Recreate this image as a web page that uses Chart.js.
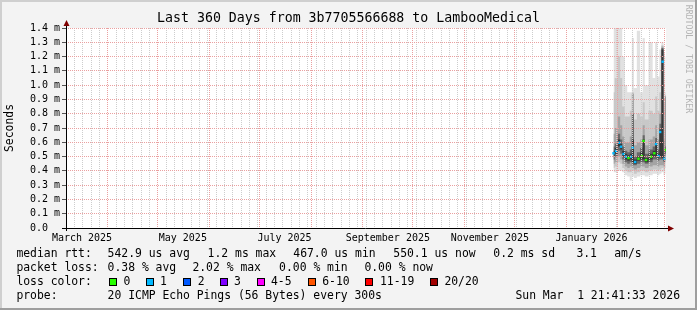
<!DOCTYPE html>
<html><head><meta charset="utf-8">
<script src="https://cdn.jsdelivr.net/npm/chart.js@4/dist/chart.umd.min.js"></script>
<style>html,body{margin:0;padding:0;background:#f3f3f3;}canvas{display:block}</style>
</head><body>
<canvas id="c" width="697" height="310"></canvas>
<script>
// ---- data (x in days since start of the 360-day window, y in ms) ----
const days   = [328.5, 330, 332, 333, 334.5, 336, 337.5, 339, 340, 341.5, 343.5, 345.5, 346.5, 348, 351, 353, 354, 355.5, 356.5, 358, 359, 359.8];
const median = [0.523, 0.539, 0.597, 0.569, 0.518, 0.499, 0.490, 0.499, 0.562, 0.462, 0.485, 0.504, 0.609, 0.476, 0.499, 0.523, 0.588, 0.504, 0.672, 1.164, 0.485, 0.546];
const lossBucket = [1,1,1,1,1,1,0,1,1,1,0,0,0,0,0,0,1,1,1,1,1,0];
const pingMin = [0.39,0.39,0.40,0.40,0.39,0.37,0.36,0.33,0.36,0.35,0.36,0.37,0.37,0.36,0.37,0.38,0.38,0.37,0.38,0.39,0.37,0.38];
const pingMax = [1.45,1.45,1.45,1.42,1.20,1.00,0.95,0.95,1.33,0.98,1.38,0.95,1.33,1.00,1.30,1.05,1.30,1.06,1.25,1.30,1.23,1.20];
const band2Lo = [0.42,0.43,0.46,0.45,0.42,0.40,0.39,0.39,0.40,0.38,0.39,0.40,0.40,0.39,0.40,0.41,0.41,0.40,0.41,0.42,0.40,0.42];
const band2Hi = [0.95,1.05,1.20,1.05,0.85,0.78,0.78,0.82,0.95,0.76,0.80,0.78,0.88,0.76,0.82,0.80,0.92,0.82,0.95,1.28,0.88,0.95];
const band3Lo = [0.45,0.46,0.50,0.48,0.45,0.43,0.42,0.43,0.42,0.41,0.42,0.43,0.43,0.42,0.43,0.44,0.44,0.43,0.44,0.44,0.43,0.46];
const band3Hi = [0.66,0.70,0.78,0.72,0.64,0.60,0.60,0.64,0.94,0.58,0.60,0.62,0.72,0.58,0.62,0.64,0.72,0.62,0.80,1.27,0.62,0.93];
const band4Lo = [0.48,0.50,0.54,0.52,0.48,0.46,0.45,0.46,0.44,0.44,0.45,0.46,0.46,0.45,0.46,0.48,0.48,0.47,0.48,0.48,0.46,0.50];
const band4Hi = [0.57,0.59,0.66,0.62,0.57,0.54,0.53,0.55,0.80,0.50,0.53,0.56,0.65,0.52,0.55,0.57,0.63,0.55,0.73,1.26,0.54,0.92];
const band5Lo = [0.50,0.52,0.57,0.55,0.50,0.48,0.47,0.48,0.46,0.45,0.47,0.48,0.48,0.46,0.48,0.50,0.50,0.49,0.50,0.49,0.47,0.52];
const band5Hi = [0.54,0.56,0.62,0.59,0.54,0.52,0.51,0.52,0.62,0.48,0.50,0.53,0.62,0.49,0.52,0.54,0.60,0.52,0.69,1.25,0.50,0.57];

// ---- axes ----
const yTicks = [0,0.1,0.2,0.3,0.4,0.5,0.6,0.7,0.8,0.9,1.0,1.1,1.2,1.3,1.4];
const monthStarts = [25.096,55.096,86.096,116.096,147.096,178.096,208.096,239.096,269.096,300.096,331.096,359.096];
const firstMinor = 0.096, minorStep = 5;
const monthLabelDays = [9.6,70.1,131.1,193.1,254.3,315.3];
const monthLabels = ["March 2025","May 2025","July 2025","September 2025","November 2025","January 2026"];

// ---- text ----
const titleText = "Last 360 Days from 3b7705566688 to LambooMedical";
const yTitle = "Seconds";
const rowRtt  = [[16.4,"median rtt:"],[107.6,"542.9 us avg"],[207.6,"1.2 ms max"],[293.3,"467.0 us min"],[393.3,"550.1 us now"],[493.3,"0.2 ms sd"],[576.4,"3.1"],[614.2,"am/s"]];
const rowLoss = [[16.4,"packet loss:"],[107.6,"0.38 % avg"],[192.4,"2.02 % max"],[279.1,"0.00 % min"],[364.4,"0.00 % now"]];
const lossLabels = ["0","1","2","3","4-5","6-10","11-19","20/20"];
const lossColors = ["#26ff00","#00b8ff","#0059ff","#7e00ff","#ff00ff","#ff5500","#ff0000","#a10000"];
const lossBoxX   = [109,146,183,220,257,308,365,430];
const lossLabelX = [123.6,160,197.8,234,271,322.2,380,444.4];
const probeText = "20 ICMP Echo Pings (56 Bytes) every 300s";
const stampText = "Sun Mar  1 21:41:33 2026";
const watermark = "RRDTOOL / TOBI OETIKER";

const MONO = "'DejaVu Sans Mono', monospace";
const minorTicks = [];
for (let v = firstMinor; v < 360; v += minorStep) minorTicks.push(+v.toFixed(3));
const gridTicks = Array.from(new Set(minorTicks.concat(monthStarts))).sort((a,b)=>a-b);
const isMonth = v => monthStarts.some(m => Math.abs(m - v) < 0.01);

const pts = arr => days.map((d,i)=>({x:d, y:arr[i]}));
const shades = ['#383838','#686868','#a4a4a4','#c8c8c8','#e1e1e1'];
const bandHi = [band5Hi, band4Hi, band3Hi, band2Hi, pingMax];
const bandLo = [band5Lo, band4Lo, band3Lo, band2Lo, pingMin];

const datasets = [{
  data: pts(median), showLine:false, pointStyle:'rect', pointRadius:1.7,
  pointBackgroundColor: lossBucket.map(b=>lossColors[b]), pointBorderWidth:0,
  pointBorderColor: lossBucket.map(b=>lossColors[b])
}];
for (let k=0;k<5;k++){
  const hi = datasets.length;
  datasets.push({data:pts(bandHi[k]), stepped:'middle', borderWidth:1, borderColor:'rgba(0,0,0,0)', pointRadius:0, backgroundColor:shades[k], fill:{target:hi+1}});
  datasets.push({data:pts(bandLo[k]), stepped:'middle', borderWidth:1, borderColor:'rgba(0,0,0,0)', pointRadius:0, fill:false});
}

const frame = {
  id:'frame',
  beforeDraw(chart){
    const {ctx, chartArea:a, width:W, height:H} = chart;
    ctx.save();
    ctx.fillStyle='#f3f3f3'; ctx.fillRect(0,0,W,H);
    ctx.fillStyle='#cfcfcf'; ctx.fillRect(0,0,W,2); ctx.fillRect(0,0,2,H);
    ctx.fillStyle='#9e9e9e'; ctx.fillRect(0,H-2,W,2); ctx.fillRect(W-2,0,2,H);
    ctx.fillStyle='#ffffff'; ctx.fillRect(a.left,a.top,a.right-a.left,a.bottom-a.top);
    ctx.restore();
  },
  afterDraw(chart){
    const {ctx, chartArea:a, width:W} = chart;
    ctx.save();
    ctx.strokeStyle='#000'; ctx.lineWidth=1; ctx.setLineDash([]);
    ctx.beginPath(); ctx.moveTo(a.left+0.5,a.bottom+3); ctx.lineTo(a.left+0.5,a.top-5); ctx.stroke();
    ctx.beginPath(); ctx.moveTo(a.left-4,a.bottom+0.5); ctx.lineTo(a.right+3,a.bottom+0.5); ctx.stroke();
    ctx.fillStyle='#7f0000';
    ctx.beginPath(); ctx.moveTo(a.left+0.5,a.top-8); ctx.lineTo(a.left-2.5,a.top-2); ctx.lineTo(a.left+3.5,a.top-2); ctx.closePath(); ctx.fill();
    ctx.beginPath(); ctx.moveTo(a.right+8,a.bottom+0.5); ctx.lineTo(a.right+2,a.bottom-2.5); ctx.lineTo(a.right+2,a.bottom+3.5); ctx.closePath(); ctx.fill();
    ctx.fillStyle='#000'; ctx.textBaseline='middle';
    ctx.font="13.25px "+MONO; ctx.textAlign='center';
    ctx.fillText(titleText, W/2, 19);
    ctx.font="11.4px "+MONO; ctx.textAlign='left';
    rowRtt.forEach(([x,t])=>ctx.fillText(t,x,254.5));
    rowLoss.forEach(([x,t])=>ctx.fillText(t,x,268));
    ctx.fillText("loss color:",16.4,282);
    lossLabels.forEach((t,i)=>{
      ctx.fillStyle=lossColors[i]; ctx.fillRect(lossBoxX[i],278,8,8);
      ctx.strokeStyle='#000'; ctx.strokeRect(lossBoxX[i]+0.5,278.5,7,7);
      ctx.fillStyle='#000'; ctx.fillText(t,lossLabelX[i],282);
    });
    ctx.fillText("probe:",16.4,295.7);
    ctx.fillText(probeText,107.6,295.7);
    ctx.textAlign='right'; ctx.fillText(stampText,680,295.7);
    ctx.translate(688,59); ctx.rotate(Math.PI/2);
    ctx.font="8.2px "+MONO; ctx.fillStyle='#b4b4b4'; ctx.textAlign='center';
    ctx.fillText(watermark,0,0);
    ctx.restore();
  }
};

new Chart(document.getElementById('c'), {
  type:'line',
  data:{datasets},
  options:{
    responsive:false, devicePixelRatio:1, animation:false, events:[],
    layout:{padding:{top:28,right:31,bottom:0,left:0}},
    plugins:{legend:{display:false}, tooltip:{enabled:false}, title:{display:false}},
    elements:{line:{tension:0}},
    scales:{
      x:{type:'linear', position:'bottom', min:0, max:360,
         afterBuildTicks:s=>{s.ticks=gridTicks.map(v=>({value:v}));},
         afterFit:s=>{s.height=0;},
         ticks:{display:false},
         grid:{z:1, drawTicks:false, lineWidth:1, color:c=>isMonth(c.tick.value)?'#eaa0a0':'#cdcdcd'},
         border:{display:false, dash:[1,1]}},
      x2:{type:'linear', axis:'x', position:'bottom', min:0, max:360,
         afterBuildTicks:s=>{s.ticks=monthLabelDays.map(v=>({value:v}));},
         afterFit:s=>{s.height=82;},
         ticks:{autoSkip:false, maxRotation:0, padding:-4, color:'#000', font:{family:MONO,size:10},
                callback:(v,i)=>monthLabels[i]},
         grid:{display:false}, border:{display:false}},
      y:{type:'linear', min:0, max:1.4,
         afterBuildTicks:s=>{s.ticks=yTicks.map(v=>({value:v}));},
         afterFit:s=>{s.width=66;},
         ticks:{autoSkip:false, padding:2, color:'#000', font:{family:MONO,size:10},
                callback:v=>Math.abs(v)<1e-9?'0.0  ':v.toFixed(1)+' m'},
         grid:{z:1, drawTicks:true, tickLength:4, tickColor:'#555', tickBorderDash:[], color:'#eaa0a0', lineWidth:1},
         border:{display:false, dash:[1,1]},
         title:{display:true, text:yTitle, color:'#000', font:{family:MONO,size:11.4}, padding:{top:3,bottom:0}}}
    }
  },
  plugins:[frame]
});
</script>
</body></html>
